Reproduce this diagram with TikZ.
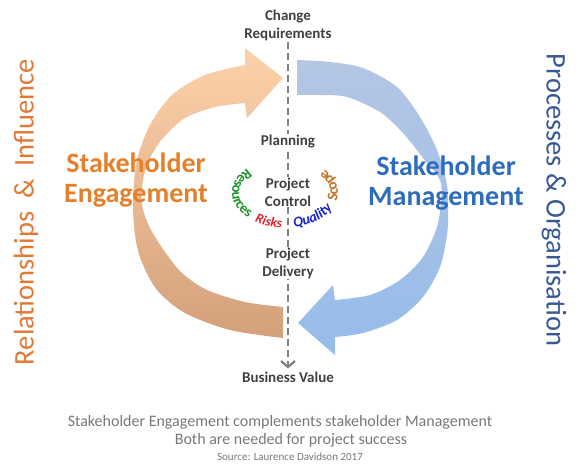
\documentclass[tikz,border=0pt]{standalone}
\usepackage{fontspec}
\setmainfont{Carlito}
\usepackage{tikz}
\usetikzlibrary{arrows.meta,decorations.text}

\definecolor{lblgray}{RGB}{64,64,64}
\definecolor{engorange}{RGB}{228,128,42}
\definecolor{mgtblue}{RGB}{46,108,188}
\definecolor{relorange}{RGB}{226,120,52}
\definecolor{procblue}{RGB}{58,88,150}
\definecolor{notegray}{RGB}{120,120,120}
\definecolor{dashgray}{RGB}{128,128,128}
\definecolor{ringpeach}{RGB}{252,210,170}
\definecolor{ringtan}{RGB}{212,160,124}
\definecolor{ringgrey}{RGB}{180,198,228}
\definecolor{ringblue}{RGB}{150,188,234}
\definecolor{resgreen}{RGB}{30,150,40}
\definecolor{riskred}{RGB}{225,30,40}
\definecolor{qualblue}{RGB}{25,35,200}
\definecolor{scopebrown}{RGB}{190,115,40}

\begin{document}
\begin{tikzpicture}[x=1pt,y=-1pt,
  every node/.style={inner sep=1pt},
  flow/.style={font=\fontsize{15}{18}\selectfont\bfseries, text=lblgray, align=center},
  flowgap/.style={flow, fill=white},
  big/.style={font=\fontsize{28}{30}\selectfont\bfseries, align=center},
  side/.style={font=\fontsize{28.5}{28.5}\selectfont},
  note/.style={font=\fontsize{16}{18}\selectfont, text=notegray},
  arcword/.style={decorate, decoration={text effects along path, text={#1},
    text effects/.cd, text along path}},
  dashline/.style={draw=dashgray, line width=2.5pt, dash pattern=on 7pt off 4pt,
    -{Straight Barb[length=6pt,width=14pt,line width=2.2pt]}, shorten >=2pt}]
\useasboundingbox (0,0) rectangle (580,468);

% orange half ring
\shade[top color=ringpeach, bottom color=ringtan]
  plot[smooth] coordinates {(245,65) (205,75) (172,95) (150,125) (137,160) (133,200)
    (135,235) (141,260) (157,290) (185,313) (230,330) (283,338)}
  -- plot[smooth] coordinates {(283,307) (245,302) (207,290) (182,273) (165,252)
    (150,228) (142,205) (143,180) (150,158) (163,138) (185,118) (215,107) (245,103)}
  -- (247,118) -- (283,78) -- (245,48) -- cycle;

% blue half ring
\shade[top color=ringgrey, bottom color=ringblue]
  plot[smooth] coordinates {(297,60) (330,62) (363,68) (397,87) (420,117) (437,150)
    (447,185) (448,215) (447,235) (440,267) (423,297) (397,320) (363,333) (335,337)}
  -- (335,355) -- (298,323) -- (333,285)
  -- plot[smooth] coordinates {(335,300) (370,295) (400,280) (423,257) (437,227)
    (441,200) (440,180) (423,158) (403,133) (380,112) (347,97) (320,95) (297,95)}
  -- cycle;

\node[flow] (req) at (288,25) {Change\\Requirements};
\node[flow] (bv) at (288,377) {Business Value};
\draw[dashline] (req) -- (bv);

\node[flowgap] (plan) at (288,142) {Planning};
\node[flowgap] (ctrl) at (288,192) {Project\\Control};
\node[flowgap] (dlv) at (288,263) {Project\\Delivery};

% words round the control box
\path[arcword=Resources, decoration={text effects/characters={inner sep=0pt,
    font=\fontsize{14.5}{14.5}\selectfont\bfseries, text=resgreen}}]
  (285,193) ++(224:53 and 35) arc[start angle=224, end angle=120, x radius=53, y radius=35];
\path[arcword=Risks, decoration={text effects/characters={inner sep=0pt,
    font=\fontsize{13.5}{13.5}\selectfont\bfseries\itshape, text=riskred}}]
  (285,193) ++(125:53 and 35) arc[start angle=125, end angle=80, x radius=53, y radius=35];
\path[arcword=Quality, decoration={text effects/characters={inner sep=0pt,
    font=\fontsize{14.5}{14.5}\selectfont\bfseries\itshape, text=qualblue}}]
  (285,193) ++(80:53 and 35) arc[start angle=80, end angle=10, x radius=53, y radius=35];
\path[arcword=Scope, decoration={text effects/characters={inner sep=0pt,
    font=\fontsize{15}{15}\selectfont\bfseries, text=scopebrown}}]
  (285,193) ++(14:53 and 35) arc[start angle=14, end angle=-60, x radius=53, y radius=35];

\node[big, text=engorange] (eng) at (136,180) {Stakeholder\\Engagement};
\node[big, text=mgtblue] (mgt) at (446,183) {Stakeholder\\Management};

\node[side, text=relorange, rotate=90] (rel) at (26,212) {Relationships \ \& \ Influence};
\node[side, text=procblue, rotate=-90] (proc) at (554,200) {Processes \& Organisation};

\node[note] (n1) at (280,422) {Stakeholder Engagement complements stakeholder Management};
\node[note] (n2) at (291,440) {Both are needed for project success};
\node[font=\fontsize{11}{12}\selectfont, text=notegray] (src) at (290,457) {Source: Laurence Davidson 2017};
\end{tikzpicture}
\end{document}
